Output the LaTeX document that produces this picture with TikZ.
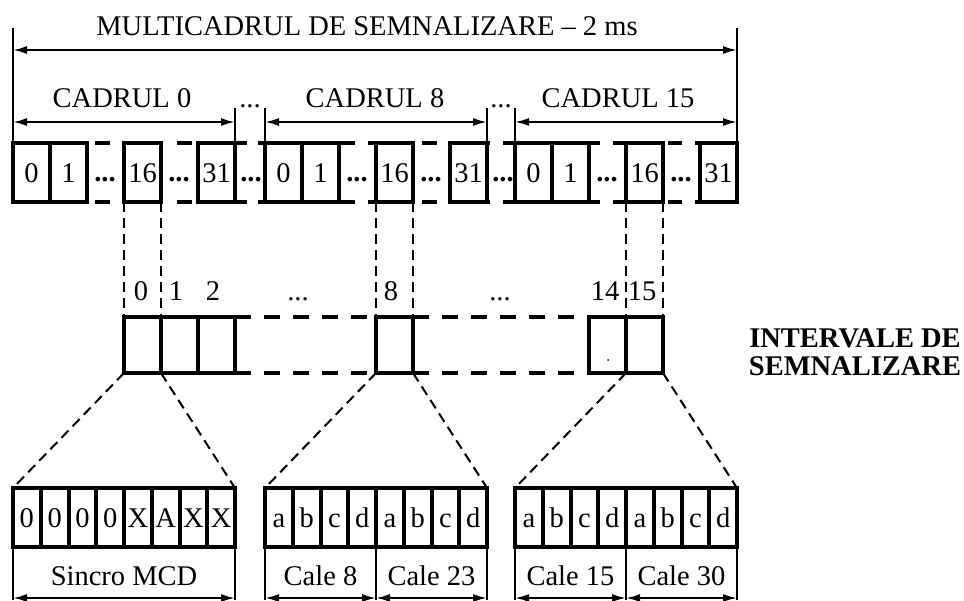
\documentclass[tikz,border=0pt]{standalone}
\usepackage{fontspec}
\setmainfont{Liberation Serif}
\usetikzlibrary{arrows.meta}
\newcommand\fs{\fontsize{28.5}{32}\selectfont}
\begin{document}
\begin{tikzpicture}[x=1pt,y=-1pt,
  box/.style={draw, line width=4pt, inner sep=0pt, outer sep=0pt, anchor=north west, minimum height=59pt, minimum width=37pt, font=\fs, text height=19pt, text depth=0pt},
  slot/.style={draw, line width=4pt, inner sep=0pt, outer sep=0pt, anchor=north west, minimum height=56pt, minimum width=37pt},
  cellb/.style={draw, line width=4pt, inner sep=0pt, outer sep=0pt, anchor=north west, minimum height=59pt, minimum width=27.75pt, font=\fs, text height=19pt, text depth=0pt},
  thin/.style={line width=2pt},
  dim/.style={line width=2pt, {Latex[length=14pt,width=8pt]}-{Latex[length=14pt,width=8pt]}},
  vdash/.style={line width=2pt, dash pattern=on 10pt off 6pt},
  rowline/.style={line width=4pt},
  slotdash/.style={line width=4pt, dash pattern=on 16pt off 13pt},
  lbl/.style={font=\fs, inner sep=0pt, anchor=base},
  dots/.style={font=\fs\bfseries, inner sep=0pt, anchor=base}
]
\clip (0,0) rectangle (964,600);
\fill[white] (0,0) rectangle (964,600);

% title and multiframe dimension
\node[lbl] (title) at (367,35) {MULTICADRUL DE SEMNALIZARE – 2 ms};
\coordinate (mL) at (13,28);
\coordinate (mR) at (737,28);
\coordinate (mLb) at (13,143);
\coordinate (mRb) at (737,143);
\draw[thin] (mL) -- (mLb);
\draw[thin] (mR) -- (mRb);
\coordinate (mA) at (13,50);
\coordinate (mB) at (737,50);
\draw[dim] (mA) -- (mB);

% frame labels, ticks, arrows
\node[lbl] (c0) at (122,107) {CADRUL 0};
\node[lbl] (c8) at (375,107) {CADRUL 8};
\node[lbl] (c15) at (618,107) {CADRUL 15};
\foreach \x in {235,265,487,515} \draw[thin] (\x,108) -- (\x,143);
\draw[dim] (13,122) -- (235,122);
\draw[dim] (265,122) -- (487,122);
\draw[dim] (515,122) -- (737,122);
\node[lbl] (d01) at (250,107) {...};
\node[lbl] (d02) at (501,107) {...};

% row lines (top and bottom)
\foreach \y in {143,202} {
  \draw[rowline] (13,\y) -- (88,\y);
  \draw[rowline] (95,\y) -- (110,\y);
  \draw[rowline] (123,\y) -- (163,\y);
  \draw[rowline] (177,\y) -- (192,\y);
  \draw[rowline] (197,\y) -- (247,\y);
  \draw[rowline] (258,\y) -- (355,\y);
  \draw[rowline] (368,\y) -- (413,\y);
  \draw[rowline] (422,\y) -- (437,\y);
  \draw[rowline] (448,\y) -- (490,\y);
  \draw[rowline] (503,\y) -- (600,\y);
  \draw[rowline] (613,\y) -- (665,\y);
  \draw[rowline] (668,\y) -- (682,\y);
  \draw[rowline] (695,\y) -- (738,\y);
}

% time slot boxes of the three frames
\foreach \f/\s in {0/13, 8/265, 15/515} {
  \node[box] (f\f b0) at (\s,143) {0};
  \node[box] (f\f b1) at (\s+37,143) {1};
  \node[box] (f\f b16) at (\s+111,143) {16};
  \node[box] (f\f b31) at (\s+185,143) {31};
  \node[dots] (f\f da) at (\s+92,181) {...};
  \node[dots] (f\f db) at (\s+166,181) {...};
}
\node[dots] (g1) at (251,181) {...};
\node[dots] (g2) at (503,181) {...};

% signalling intervals
\node[slot] (s0) at (124,317) {};
\node[slot] (s1) at (161,317) {};
\node[slot] (s2) at (198,317) {};
\node[slot] (s8) at (376,317) {};
\node[slot] (s14) at (589,317) {};
\node[slot] (s15) at (626,317) {};
\draw[slotdash] (s2.north east) -- (s8.north west);
\draw[slotdash] (s2.south east) -- (s8.south west);
\draw[slotdash] (s8.north east) -- (s14.north west);
\draw[slotdash] (s8.south east) -- (s14.south west);
\fill (608,360) circle (1pt);

\node[lbl] (l0) at (141,300) {0};
\node[lbl] (l1) at (176,300) {1};
\node[lbl] (l2) at (213,300) {2};
\node[lbl] (ld1) at (298,300) {...};
\node[lbl] (l8) at (391,300) {8};
\node[lbl] (ld2) at (500,300) {...};
\node[lbl] (l14) at (605,300) {14};
\node[lbl] (l15) at (642,300) {15};

\node[font=\fs\bfseries, inner sep=0pt, anchor=base] (int1) at (855,347) {INTERVALE DE};
\node[font=\fs\bfseries, inner sep=0pt, anchor=base] (int2) at (855,375) {SEMNALIZARE};

% vertical dashed projections
\draw[vdash] (f0b16.south west) -- (s0.north west);
\draw[vdash] (f0b16.south east) -- (s0.north east);
\draw[vdash] (f8b16.south west) -- (s8.north west);
\draw[vdash] (f8b16.south east) -- (s8.north east);
\draw[vdash] (f15b16.south west) -- (s15.north west);
\draw[vdash] (f15b16.south east) -- (s15.north east);

% bit groups
\foreach [count=\i from 0] \t in {0,0,0,0,X,A,X,X}
  \node[cellb] (ga\i) at (13+\i*27.75,488) {\t};
\foreach [count=\i from 0] \t in {a,b,c,d,a,b,c,d}
  \node[cellb] (gb\i) at (265+\i*27.75,488) {\t};
\foreach [count=\i from 0] \t in {a,b,c,d,a,b,c,d}
  \node[cellb] (gc\i) at (515+\i*27.75,488) {\t};

\draw[vdash] (s0.south west) -- (ga0.north west);
\draw[vdash] (s0.south east) -- (ga7.north east);
\draw[vdash] (s8.south west) -- (gb0.north west);
\draw[vdash] (s8.south east) -- (gb7.north east);
\draw[vdash] (s15.south west) -- (gc0.north west);
\draw[vdash] (s15.south east) -- (gc7.north east);

% lower dimension lines
\coordinate (ea) at (13,600);   \coordinate (eb) at (235,600);
\coordinate (ec) at (265,600);  \coordinate (ed) at (376,600);
\coordinate (ee) at (487,600);  \coordinate (ef) at (515,600);
\coordinate (eg) at (626,600);  \coordinate (eh) at (737,600);
\draw[thin] (ga0.south west) -- (ea);
\draw[thin] (ga7.south east) -- (eb);
\draw[thin] (gb0.south west) -- (ec);
\draw[thin] (gb3.south east) -- (ed);
\draw[thin] (gb7.south east) -- (ee);
\draw[thin] (gc0.south west) -- (ef);
\draw[thin] (gc3.south east) -- (eg);
\draw[thin] (gc7.south east) -- (eh);

\node[lbl] (n1) at (124,585) {Sincro MCD};
\node[lbl] (n2) at (320.5,585) {Cale 8};
\node[lbl] (n3) at (431.5,585) {Cale 23};
\node[lbl] (n4) at (570.5,585) {Cale 15};
\node[lbl] (n5) at (681.5,585) {Cale 30};

\draw[dim] (13,598) -- (235,598);
\draw[dim] (265,598) -- (376,598);
\draw[dim] (376,598) -- (487,598);
\draw[dim] (515,598) -- (626,598);
\draw[dim] (626,598) -- (737,598);
\end{tikzpicture}
\end{document}
